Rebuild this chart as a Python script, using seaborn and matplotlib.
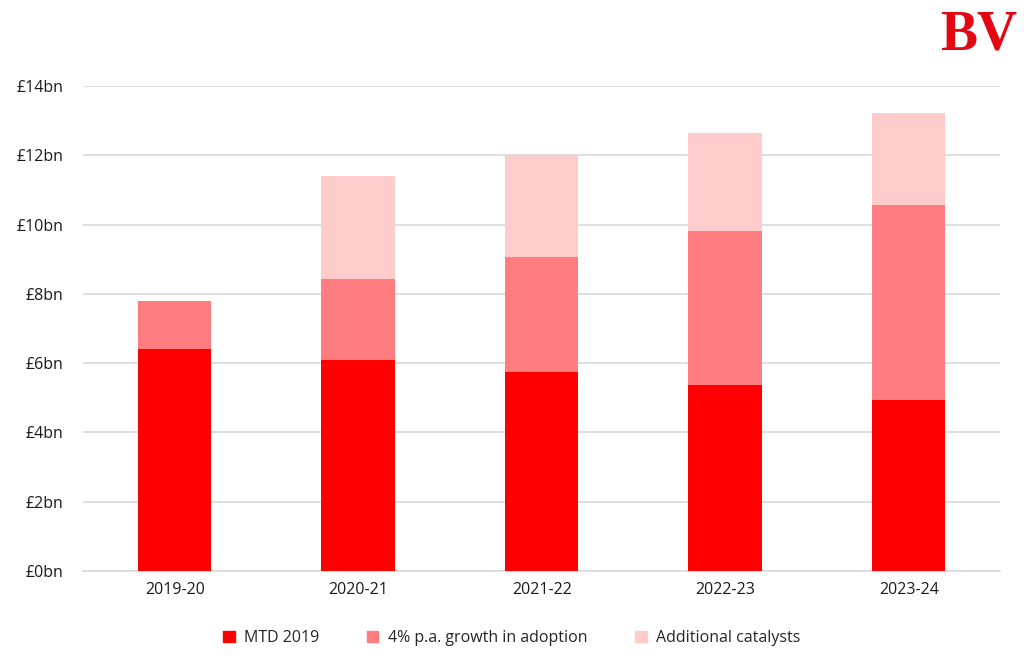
import pandas as pd
import matplotlib.pyplot as plt
import seaborn as sns
from matplotlib.patches import Patch

# data (bn GBP)
years = ["2019-20", "2020-21", "2021-22", "2022-23", "2023-24"]
mtd_2019 = [6.4, 6.08, 5.74, 5.38, 4.95]
growth = [1.38, 2.35, 3.32, 4.43, 5.62]
catalysts = [0.0, 2.97, 2.95, 2.83, 2.65]

df = pd.DataFrame({"Year": years, "MTD": mtd_2019, "Growth": growth, "Catalysts": catalysts})
df["Level2"] = df["MTD"] + df["Growth"]
df["Total"] = df["Level2"] + df["Catalysts"]

sns.set_style("white")
plt.rcParams["font.family"] = ["Open Sans", "DejaVu Sans"]

c_red, c_mid, c_light = "#FF0000", "#FF7C80", "#FFCCCC"

fig = plt.figure(figsize=(10.24, 6.69), dpi=100)
ax = fig.add_axes([0.081, 0.1465, 0.896, 0.7249])

# stacked bars drawn as overlapping cumulative totals
bar_kw = dict(width=0.4, saturation=1, linewidth=0, edgecolor="none", ax=ax)
sns.barplot(data=df, x="Year", y="Total", color=c_light, zorder=2, **bar_kw)
sns.barplot(data=df, x="Year", y="Level2", color=c_mid, zorder=3, **bar_kw)
sns.barplot(data=df, x="Year", y="MTD", color=c_red, zorder=4, **bar_kw)

ax.set_ylim(0, 14)
ax.set_xlim(-0.5, 4.5)
ax.set_yticks(range(0, 15, 2))
ax.set_yticklabels([f"£{v}bn" for v in range(0, 15, 2)])
ax.yaxis.grid(True, color="#d9d9d9", linewidth=1.2, zorder=0)
ax.set_axisbelow(True)
ax.set_xlabel("")
ax.set_ylabel("")
for s in ["top", "right", "left"]:
    ax.spines[s].set_visible(False)
ax.spines["bottom"].set_color("#d9d9d9")
ax.spines["bottom"].set_linewidth(1.2)
ax.tick_params(axis="both", length=0, labelsize=11.5, colors="#1a1a1a", pad=8)
ax.tick_params(axis="y", pad=14)

handles = [Patch(color=c_red, label="MTD 2019"),
           Patch(color=c_mid, label="4% p.a. growth in adoption"),
           Patch(color=c_light, label="Additional catalysts")]
fig.legend(handles=handles, loc="center", bbox_to_anchor=(0.5, 0.046), ncol=3, frameon=False,
           fontsize=11.5, handlelength=0.7, handleheight=0.7, columnspacing=3, handletextpad=0.6)

fig.text(0.956, 0.947, "BV", color="#E30613", fontsize=40, fontweight="bold",
         family="Liberation Serif", ha="center", va="center")

fig.savefig("out.png", dpi=100, facecolor="white")
